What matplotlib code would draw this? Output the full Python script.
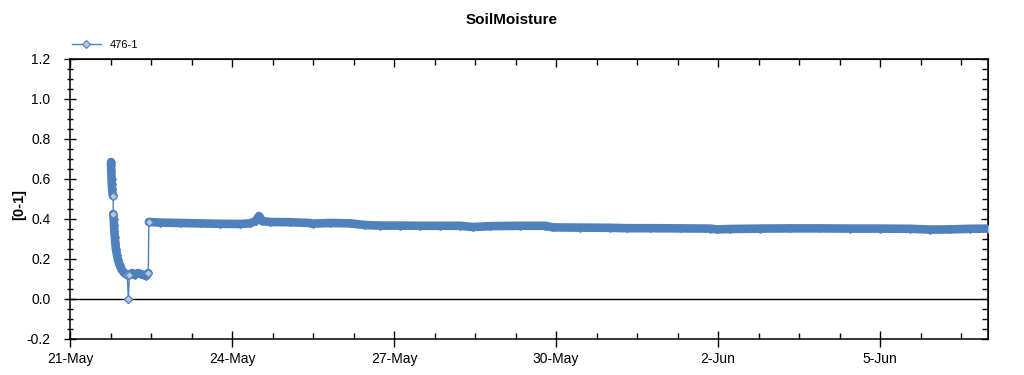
import numpy as np
import pandas as pd
import matplotlib
matplotlib.use('Agg')
import matplotlib.pyplot as plt
import matplotlib.dates as mdates
from matplotlib.ticker import FixedLocator, MultipleLocator, FuncFormatter

plt.rcParams['font.family'] = ['Liberation Sans', 'DejaVu Sans']

START = pd.Timestamp('2015-05-21')

# time in days after 21-May 00:00
days = [0.76, 0.76, 0.765, 0.77, 0.775, 0.78, 0.79, 0.80,
        0.80, 0.81, 0.815, 0.82, 0.83, 0.84, 0.85, 0.87, 0.89, 0.92, 0.95, 0.99, 1.03, 1.06,
        1.08,
        1.10, 1.15, 1.20, 1.26, 1.31, 1.37, 1.41, 1.45,
        1.46, 1.67, 2.04, 2.41, 2.78, 3.15, 3.33, 3.44, 3.50, 3.56, 3.70, 4.07, 4.44, 4.50,
        4.81, 5.19, 5.46, 5.74, 6.11, 6.48, 6.85, 7.22, 7.46, 7.78, 8.33, 8.80, 8.94, 9.44,
        10.0, 10.31, 10.74, 11.30, 11.85, 11.98, 12.22, 12.78, 13.33, 13.89, 14.44, 15.0,
        15.56, 15.93, 16.30, 16.67, 17.0]
moisture = [0.685, 0.67, 0.64, 0.60, 0.575, 0.55, 0.52, 0.515,
            0.425, 0.40, 0.37, 0.34, 0.31, 0.28, 0.25, 0.22, 0.195, 0.17, 0.15, 0.135, 0.125, 0.12,
            0.0,
            0.12, 0.13, 0.12, 0.13, 0.125, 0.12, 0.115, 0.13,
            0.385, 0.382, 0.38, 0.378, 0.376, 0.375, 0.378, 0.39, 0.415, 0.39, 0.385, 0.384, 0.38, 0.377,
            0.38, 0.378, 0.37, 0.367, 0.367, 0.366, 0.366, 0.366, 0.36, 0.364, 0.366, 0.366, 0.358, 0.357,
            0.356, 0.354, 0.354, 0.353, 0.352, 0.348, 0.35, 0.352, 0.353, 0.353, 0.352, 0.352,
            0.351, 0.347, 0.348, 0.351, 0.352]

series_label = '476-1'
chart_title = 'SoilMoisture'
y_title = '[0-1]'

BLUE = '#4f81bd'
FILL = '#b7c9de'

t = mdates.date2num(START + pd.to_timedelta(days, unit='D'))
v = np.array(moisture)

# the logger's dense points merge into a solid band; break it where the value jumps
jump = np.abs(np.diff(v)) > 0.05
band_t = []
band_v = []
for i in range(len(v)):
    band_t.append(t[i]); band_v.append(v[i])
    if i < len(jump) and jump[i]:
        band_t.append(np.nan); band_v.append(np.nan)
ends = np.zeros(len(v), dtype=bool)
ends[:-1] |= jump
ends[1:] |= jump

fig = plt.figure(figsize=(10.24, 3.75), dpi=100)
ax = fig.add_axes([70/1024, 1 - 339/375, 918/1024, 280/375])

line, = ax.plot(t, v, '-', color=BLUE, lw=1, marker='D', ms=4.5,
                mfc=FILL, mec=BLUE, mew=0.8, label=series_label, zorder=3)
ax.plot(band_t, band_v, '-', color=BLUE, lw=6.2, solid_capstyle='round', zorder=4)
ax.plot(t[ends], v[ends], 'D', ms=4.5, mfc=FILL, mec=BLUE, mew=0.8, zorder=5)
ax.axhline(0, color='black', lw=1, zorder=2)

x0 = mdates.date2num(START)
ax.set_xlim(x0, x0 + 17)
ax.set_ylim(-0.2, 1.2)
ax.xaxis.set_major_locator(FixedLocator(x0 + np.arange(0, 17, 3)))
ax.xaxis.set_minor_locator(FixedLocator(x0 + np.arange(0, 17.01, 0.75)))

def day_label(x, pos):
    d = mdates.num2date(x)
    return f"{d.day}-{d:%b}"

ax.xaxis.set_major_formatter(FuncFormatter(day_label))
ax.yaxis.set_major_locator(MultipleLocator(0.2))
ax.yaxis.set_minor_locator(MultipleLocator(0.05))
ax.yaxis.set_major_formatter(FuncFormatter(lambda y, pos: f"{y:.1f}"))

for s in ax.spines.values():
    s.set_linewidth(1.1)
ax.tick_params(axis='y', which='major', direction='inout', length=8, width=1, labelsize=10, pad=10)
ax.tick_params(axis='y', which='minor', direction='inout', length=5, width=1)
ax.tick_params(axis='x', which='major', direction='inout', length=11, width=1, labelsize=10, pad=4)
ax.tick_params(axis='x', which='minor', direction='in', length=4, width=1)

# inward ticks on the top and right frame
top = ax.secondary_xaxis('top')
top.xaxis.set_major_locator(FixedLocator(x0 + np.arange(0, 17, 3)))
top.xaxis.set_minor_locator(FixedLocator(x0 + np.arange(0, 17.01, 0.75)))
top.tick_params(which='major', direction='in', length=6, width=1, labeltop=False)
top.tick_params(which='minor', direction='in', length=4, width=1)
right = ax.secondary_yaxis('right')
right.yaxis.set_major_locator(MultipleLocator(0.2))
right.yaxis.set_minor_locator(MultipleLocator(0.05))
right.tick_params(which='major', direction='in', length=5, width=1, labelright=False)
right.tick_params(which='minor', direction='in', length=4, width=1)

ax.set_ylabel(y_title, fontsize=10.5, fontweight='bold')
ax.yaxis.set_label_coords(-44/918, 0.48)

fig.text(0.5, 1 - 20/375, chart_title, ha='center', va='center', fontsize=11, fontweight='bold')
fig.legend(handles=[line], loc='center left', bbox_to_anchor=(72/1024, 1 - 45/375),
           frameon=False, fontsize=8, handlelength=2.6, borderpad=0, borderaxespad=0,
           handletextpad=0.8)

fig.savefig('out.png', dpi=100)
